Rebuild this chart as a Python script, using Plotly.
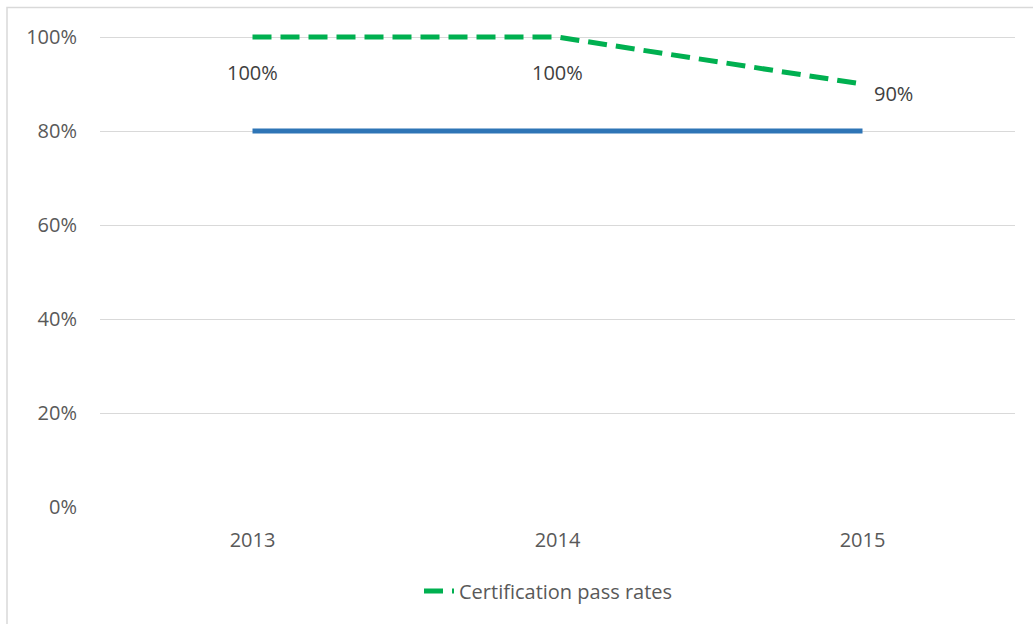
import plotly.graph_objects as go

years = ["2013", "2014", "2015"]
pass_rates = [1.00, 1.00, 0.90]
target = [0.80, 0.80, 0.80]
label_text = ["100%", "100%", "90%"]
y_ticks = [0, 0.2, 0.4, 0.6, 0.8, 1.0]
y_tick_text = ["0%", "20%", "40%", "60%", "80%", "100%"]

FONT = "Open Sans, Liberation Sans, sans-serif"
TXT = "#595959"
FS = 20

fig = go.Figure()
fig.add_trace(go.Scatter(
    x=years, y=target, mode="lines", showlegend=False,
    line=dict(color="#2E75B6", width=5), hoverinfo="skip"))
fig.add_trace(go.Scatter(
    x=years, y=pass_rates, mode="lines", name="Certification pass rates",
    line=dict(color="#00B050", width=5, dash="19px,9px")))

shifts = [(0, -35, "center"), (0, -35, "center"), (9, -9, "left")]
for i, (yv, t, (xs, ys, al)) in enumerate(zip(pass_rates, label_text, shifts)):
    fig.add_annotation(x=i, y=yv, xref="x", yref="y", text=t, showarrow=False,
                       xshift=xs, yshift=ys, xanchor=al, yanchor="middle",
                       font=dict(family=FONT, size=FS, color="#404040"))

W, H = 1033, 624
YTOP = 1.03
ml, mr, mb = 100, 18, 117
ph_unit = 470  # pixels for 0..1
mt = 37 - (YTOP - 1) * ph_unit
pw, ph = W - ml - mr, H - mt - mb
fig.add_shape(type="rect", xref="paper", yref="paper",
              x0=(7 - ml) / pw, x1=(W + 5 - ml) / pw,
              y0=(H - mb - (H + 5)) / ph, y1=(H - mb - 7.5) / ph,
              line=dict(color="#D9D9D9", width=1.5), layer="below")

fig.update_layout(
    width=W, height=H, margin=dict(l=ml, r=mr, t=mt, b=mb),
    paper_bgcolor="white", plot_bgcolor="white",
    font=dict(family=FONT, size=FS, color=TXT),
    xaxis=dict(type="category", range=[-0.5, 2.5], showgrid=False, showline=False,
               zeroline=False, ticks="", tickfont=dict(size=FS, color=TXT), ticklabelstandoff=19),
    yaxis=dict(range=[0, YTOP], tickvals=y_ticks, ticktext=y_tick_text, showgrid=True,
               gridcolor="#D9D9D9", gridwidth=1, zeroline=False, showline=False,
               ticks="", tickfont=dict(size=FS, color=TXT), ticklabelstandoff=22),
    legend=dict(orientation="h", x=0.5 - 9 / pw, xanchor="center", y=-(84 / ph), yanchor="middle",
                font=dict(size=FS, color=TXT)),
)
fig.write_html("out.html", config={"displayModeBar": False},
               post_script="document.body.style.margin='0';")
